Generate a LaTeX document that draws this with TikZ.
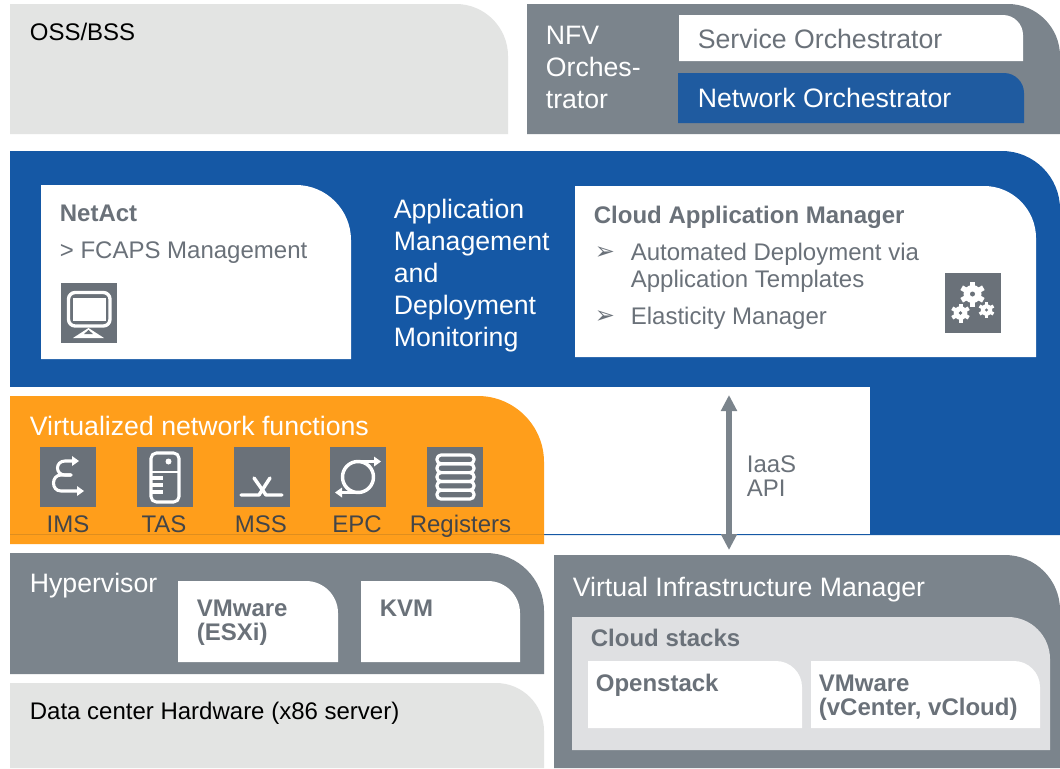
\documentclass[tikz,border=0pt]{standalone}
\usepackage{fontspec}
\setmainfont{Liberation Sans}
\newfontfamily\symfont{DejaVu Sans}
\usetikzlibrary{arrows.meta}
\definecolor{nblue}{HTML}{1558A5}
\definecolor{nblue2}{HTML}{1F5BA0}
\definecolor{ngray}{HTML}{7B848C}
\definecolor{nlight}{HTML}{E3E4E3}
\definecolor{npanel}{HTML}{DFE0E2}
\definecolor{norange}{HTML}{FF9E1B}
\definecolor{nline}{HTML}{DE8E1F}
\definecolor{nicon}{HTML}{6A7179}
\definecolor{ndark}{HTML}{434548}
\newcommand\tabpanel[6]{\fill[#1] (#2,#5) -- (#2,#3) -- ({#4-#6},#3) .. controls ({#4-0.45*#6},#3) and (#4,{#3+0.45*#6}) .. (#4,{#3+#6}) -- (#4,#5) -- cycle;}
\newcommand\gearicon[3]{%
  \fill[white] (#1,#2) circle ({0.72*#3});
  \foreach \a in {0,60,...,300}{\draw[white,line width={0.42*#3*0.75pt}] (#1,#2) -- ++(\a+30:#3);}
  \fill[nicon] (#1,#2) circle ({0.2*#3});}
\tikzset{
  lab/.style={inner sep=0pt,anchor=base west,xshift=-0.3pt},
  big/.style={font=\fontsize{20}{24}\selectfont},
  mid/.style={font=\fontsize{18}{21}\selectfont},
  midb/.style={font=\fontsize{18}{18}\selectfont\bfseries},
  tall/.style={lab,align=left,anchor=north west},
  iconbox/.style={fill=nicon},
  ink/.style={draw=white,line width=2.3pt,line cap=round,line join=round},
  vnf/.style={inner sep=0pt,anchor=base,text=ndark,font=\fontsize{18}{22}\selectfont},
}
\begin{document}
\begin{tikzpicture}[x=0.75pt,y=-0.75pt]
\useasboundingbox (0,0) rectangle (1060,768);
\fill[white] (0,0) rectangle (1060,768);
% top row
\tabpanel{nlight}{10}{4}{508}{134}{52}
\tabpanel{ngray}{527}{4}{1060}{134}{52}
\tabpanel{white}{679}{15}{1023}{61}{20}
\tabpanel{nblue2}{678}{73}{1024}{123}{20}
% management layer
\tabpanel{nblue}{10}{151}{1060}{535}{58}
\fill[white] (10,387) rectangle (870,534);
\tabpanel{white}{41}{185}{351}{359}{55}
\tabpanel{white}{575}{186}{1036}{357}{52}
% VNF
\tabpanel{norange}{10}{396}{544}{544}{66}
\draw[nline,line width=0.75pt] (10,534.5) -- (544,534.5);
% hypervisor and hardware
\tabpanel{ngray}{10}{553}{544}{674}{58}
\tabpanel{white}{178}{581}{338}{662}{32}
\tabpanel{white}{361}{581}{520}{662}{32}
\tabpanel{nlight}{10}{683}{544}{768}{48}
% VIM
\tabpanel{ngray}{554}{555}{1060}{768}{55}
\tabpanel{npanel}{572}{617}{1050}{750}{42}
\tabpanel{white}{588}{661}{802}{728}{26}
\tabpanel{white}{811}{661}{1040}{728}{26}
% texts
\node[lab,mid] (oss) at (30,40) {OSS/BSS};
\node[tall,big,text=white] (nfv) at (546,26) {NFV\\Orches-\\trator};
\node[lab,big,text=nicon] (so) at (698,48) {Service Orchestrator};
\node[lab,big,text=white] (no) at (698,107) {Network Orchestrator};
\node[lab,midb,text=nicon] (netact) at (60,221) {NetAct};
\node[lab,mid,text=nicon] (fcaps) at (60,258) {> FCAPS Management};
\node[tall,big,text=white] (appm) at (394,199) {Application\\Management\\and\\Deployment\\Monitoring};
\node[lab,midb,text=nicon] (cam) at (594,223) {Cloud Application Manager};
\node[lab,font=\symfont\fontsize{18}{20}\selectfont,text=nicon] (b1) at (595,259) {➢};
\node[tall,mid,text=nicon] (auto) at (631,243) {Automated Deployment via\\[-1pt]Application Templates};
\node[lab,font=\symfont\fontsize{18}{20}\selectfont,text=nicon] (b2) at (595,323) {➢};
\node[lab,mid,text=nicon] (elast) at (631,324) {Elasticity Manager};
\node[lab,big,text=white] (vnftitle) at (30,435) {Virtualized network functions};
\node[vnf] (ims) at (68,532) {IMS};
\node[vnf] (tas) at (164,532) {TAS};
\node[vnf] (mss) at (261,532) {MSS};
\node[vnf] (epc) at (357,532) {EPC};
\node[vnf] (reg) at (460.5,532) {Registers};
\node[lab,big,text=white] (hyp) at (30,592) {Hypervisor};
\node[tall,midb,text=nicon] (esxi) at (197,600) {VMware\\(ESXi)};
\node[lab,midb,text=nicon] (kvm) at (380,616) {KVM};
\node[lab,mid] (dc) at (30,719) {Data center Hardware (x86 server)};
\node[lab,big,text=white] (vim) at (573,596) {Virtual Infrastructure Manager};
\node[lab,midb,text=nicon] (stacks) at (591,646) {Cloud stacks};
\node[lab,midb,text=nicon] (ostack) at (596,691) {Openstack};
\node[tall,midb,text=nicon] (vmw) at (819,675) {VMware\\(vCenter, vCloud)};
\node[tall,mid,font=\fontsize{18}{18}\selectfont,text=nicon] (iaas) at (747,455) {IaaS\\API};
% API arrow
\coordinate (apitop) at (729,395);
\coordinate (apibot) at (729,550);
\draw[ngray,line width=3.8pt,{Triangle[length=12pt,width=11.5pt]}-{Triangle[length=12pt,width=11.5pt]}] (apitop) -- (apibot);
% monitor icon
\begin{scope}[shift={(61,283)}]
  \fill[iconbox] (0,0) rectangle (56,60);
  \draw[ink,line width=2.5pt,rounded corners=5pt] (7.5,9.5) rectangle (49,43);
  \fill[white] (12,15) rectangle (44.5,38);
  \fill[white] (27.5,45) -- (12,55) -- (43,55) -- cycle;
  \fill[nicon] (27.5,47) -- (23,51) -- (32,51) -- cycle;
\end{scope}
% gears icon
\begin{scope}[shift={(945,273)}]
  \fill[iconbox] (0,0) rectangle (56,60);
  \gearicon{27.5}{21}{12.5}
  \gearicon{15.5}{40}{9.5}
  \gearicon{41.5}{37}{8}
\end{scope}
% IMS icon
\begin{scope}[shift={(40,447)}]
  \fill[iconbox] (0,0) rectangle (56,60);
  \draw[ink] (31,28) -- (25,28) .. controls (15,28) and (15,14) .. (25,14) -- (33,14);
  \draw[ink] (31,28) -- (21,28) .. controls (11,28) and (11,44) .. (21,44) -- (38,44);
  \fill[white] (32,9) -- (39,14) -- (32,19) -- cycle;
  \fill[white] (37,39) -- (44,44) -- (37,49) -- cycle;
\end{scope}
% TAS icon
\begin{scope}[shift={(137,447)}]
  \fill[iconbox] (0,0) rectangle (56,60);
  \draw[ink,rounded corners=4pt] (14,6) rectangle (42,55);
  \fill[white] (31.5,14.5) circle (3);
  \draw[ink,line width=1.4pt] (15,25) -- (41,25);
  \draw[ink,line width=3.2pt,line cap=butt] (15,31) -- (26,31) (15,38) -- (26,38) (15,45) -- (26,45);
\end{scope}
% MSS icon
\begin{scope}[shift={(234,447)}]
  \fill[iconbox] (0,0) rectangle (56,60);
  \draw[ink,line width=2.6pt] (20,31) -- (32,48) -- (48,48);
  \draw[ink,line width=2.6pt] (36,31) -- (25,48) -- (7,48);
\end{scope}
% EPC icon
\begin{scope}[shift={(330,447)}]
  \fill[iconbox] (0,0) rectangle (56,60);
  \draw[ink,line width=2.6pt] (28,30) circle (15.5);
  \draw[ink] (28,14.5) -- (46,14.5);
  \draw[ink] (28,45.5) -- (10,45.5);
  \fill[white] (44,9.5) -- (51,14.5) -- (44,19.5) -- cycle;
  \fill[white] (12,40.5) -- (5,45.5) -- (12,50.5) -- cycle;
\end{scope}
% Registers icon
\begin{scope}[shift={(427,447)}]
  \fill[iconbox] (0,0) rectangle (56,60);
  \foreach \r in {0,1,2,3,4}{
    \draw[ink,line width=2.4pt,rounded corners=3pt] (10,{8+\r*8.8}) rectangle (47,{8+(\r+1)*8.8});}
\end{scope}
\end{tikzpicture}
\end{document}
